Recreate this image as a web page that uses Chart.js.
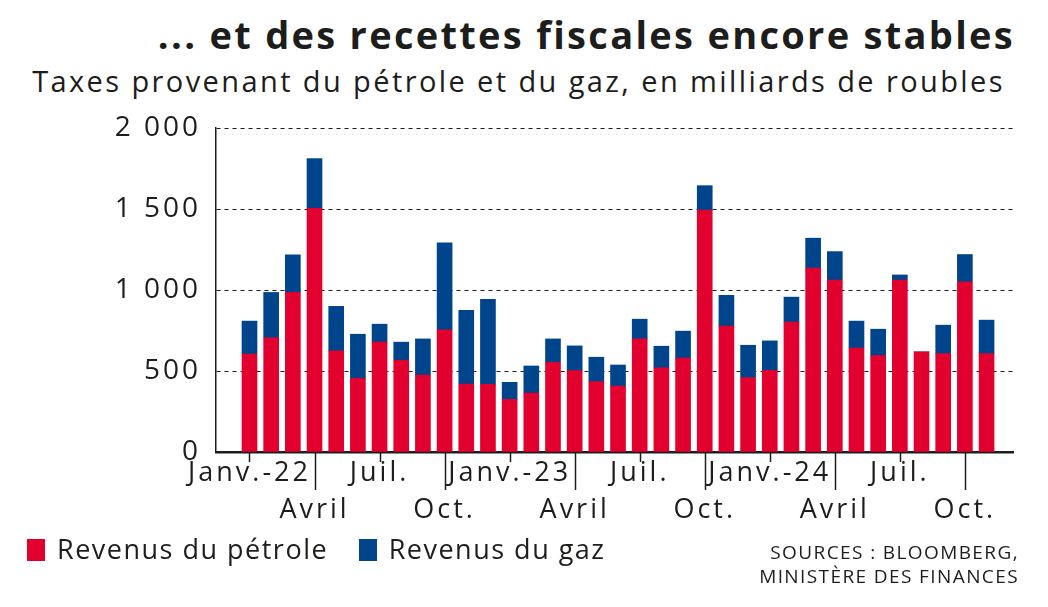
<!DOCTYPE html>
<html lang="fr">
<head>
<meta charset="utf-8">
<title>Recettes fiscales</title>
<script src="https://cdn.jsdelivr.net/npm/chart.js@4.4.0/dist/chart.umd.min.js"></script>
<style>
  html, body { margin: 0; padding: 0; background: #fff; }
  body { width: 1048px; height: 607px; position: relative; overflow: hidden; font-family: "Open Sans", sans-serif; color: #1d1d1b; }
  #chart { position: absolute; left: 0; top: 0; }
  .title { position: absolute; right: 33px; top: 8px; font-size: 38px; font-weight: 700; letter-spacing: 2.3px; white-space: nowrap; }
  .subtitle { position: absolute; right: 43px; top: 61px; font-size: 29px; letter-spacing: 2.4px; white-space: nowrap; }
  .legend { position: absolute; left: 27px; top: 530px; font-size: 27px; letter-spacing: 1.5px; white-space: nowrap; }
  .legend span.box { display: inline-block; width: 18px; height: 22px; vertical-align: -2px; margin-right: 12px; }
  .legend span.item { margin-right: 22px; }
  .sources { position: absolute; right: 29px; top: 540px; font-size: 19px; line-height: 24px; letter-spacing: 1.4px; text-align: right; white-space: nowrap; }
</style>
</head>
<body>
<div class="title">... et des recettes fiscales encore stables</div>
<div class="subtitle">Taxes provenant du pétrole et du gaz, en milliards de roubles</div>
<canvas id="chart" width="1048" height="607"></canvas>
<div class="legend">
  <span class="item"><span class="box" style="background:#e2002f"></span>Revenus du pétrole</span>
  <span class="item"><span class="box" style="background:#00448c"></span>Revenus du gaz</span>
</div>
<div class="sources">SOURCES : BLOOMBERG,<br>MINISTÈRE DES FINANCES</div>

<script>
// Monthly values, Jan 2022 -> Nov 2024 (billions of roubles)
const oilRevenue = [605, 705, 985, 1504, 624, 455, 678, 566, 475, 754, 420, 418,
  325, 364, 554, 502, 434, 407, 698, 519, 579, 1493, 777, 459,
  504, 802, 1136, 1062, 642, 595, 1062, 618, 607, 1051, 607];
const gasRevenue = [203, 280, 232, 307, 275, 272, 111, 112, 223, 537, 454, 524,
  105, 167, 144, 153, 151, 130, 122, 134, 167, 151, 190, 200,
  182, 154, 184, 175, 166, 163, 31, 0, 176, 168, 207];

// x tick labels, one every three months
const tickMonths = [0, 3, 6, 9, 12, 15, 18, 21, 24, 27, 30, 33];
const tickLabels = ['Janv.-22', 'Avril', 'Juil.', 'Oct.', 'Janv.-23', 'Avril', 'Juil.', 'Oct.', 'Janv.-24', 'Avril', 'Juil.', 'Oct.'];

const yTicks = [0, 500, 1000, 1500, 2000];
const yLabels = ['0', '500', '1 000', '1 500', '2 000'];

const RED = '#e2002f';
const BLUE = '#00448c';
const INK = '#1d1d1b';

// the reference font is wider than Open Sans, so loosen the canvas text a bit
const letterSpacing = {
  id: 'letterSpacing',
  beforeDraw(chart) {
    chart.ctx.letterSpacing = '3px';
  }
};

// tick marks under the x axis: short for Janv./Juil., long for Avril/Oct.
const xTickMarks = {
  id: 'xTickMarks',
  afterDraw(chart) {
    const scale = chart.scales.x;
    const ctx = chart.ctx;
    const y0 = chart.chartArea.bottom;
    ctx.save();
    ctx.strokeStyle = INK;
    ctx.lineWidth = 1.5;
    tickMonths.forEach((m, i) => {
      const x = Math.round(scale.getPixelForValue(m)) + 0.5;
      const len = i % 2 === 1 ? 38 : 10;
      ctx.beginPath();
      ctx.moveTo(x, y0);
      ctx.lineTo(x, y0 + len);
      ctx.stroke();
    });
    ctx.restore();
  }
};

const ctx = document.getElementById('chart').getContext('2d');
new Chart(ctx, {
  type: 'bar',
  data: {
    datasets: [
      {
        label: 'Revenus du pétrole',
        data: oilRevenue.map((v, i) => ({ x: i, y: v })),
        backgroundColor: RED,
        barThickness: 15
      },
      {
        label: 'Revenus du gaz',
        data: gasRevenue.map((v, i) => ({ x: i, y: v })),
        backgroundColor: BLUE,
        barThickness: 15
      }
    ]
  },
  options: {
    responsive: false,
    devicePixelRatio: 1,
    animation: false,
    layout: { padding: { top: 128, right: 35, bottom: 0, left: 0 } },
    plugins: {
      legend: { display: false },
      tooltip: { enabled: false }
    },
    scales: {
      x: {
        type: 'linear',
        stacked: true,
        offset: false,
        min: -1.545,
        max: 35.22,
        afterBuildTicks(scale) {
          scale.ticks = tickMonths.map(v => ({ value: v }));
        },
        afterFit(scale) { scale.height = 155; },
        grid: { display: false, drawTicks: false },
        border: { display: true, color: INK, width: 2.5 },
        ticks: {
          autoSkip: false,
          maxRotation: 0,
          minRotation: 0,
          padding: 2,
          color: INK,
          font: { family: 'Open Sans', size: 27, lineHeight: 1.4 },
          callback(value) {
            const i = tickMonths.indexOf(value);
            if (i < 0) return '';
            return i % 2 === 1 ? ['', tickLabels[i]] : tickLabels[i];
          }
        }
      },
      y: {
        stacked: true,
        min: 0,
        max: 2000,
        afterBuildTicks(scale) {
          scale.ticks = yTicks.map(v => ({ value: v }));
        },
        afterFit(scale) { scale.width = 216; },
        grid: {
          color: INK,
          lineWidth: 1,
          drawTicks: false
        },
        border: { display: true, color: INK, width: 1.5, dash: [4, 4] },
        ticks: {
          padding: 15,
          color: INK,
          font: { family: 'Open Sans', size: 28 },
          callback(value) {
            return yLabels[yTicks.indexOf(value)];
          }
        }
      }
    }
  },
  plugins: [letterSpacing, xTickMarks]
});
</script>
</body>
</html>
